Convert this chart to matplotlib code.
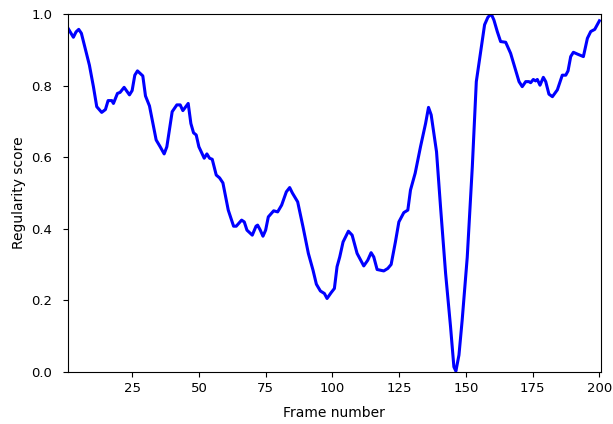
import matplotlib
matplotlib.use("Agg")
import matplotlib.pyplot as plt

# readings: (frame, regularity score)
frames = [1, 3, 4, 5, 6, 9, 10.5, 11.75, 13.6, 15, 16, 17.4, 18, 19.5, 20.5, 22, 24, 25, 26, 27,
          29, 30, 31.5, 34, 35.5, 37, 38, 40, 41.75, 43, 44, 46, 47, 48, 49, 50, 52, 53, 54, 55,
          56.5, 57.75, 59, 61, 63, 64, 66, 67, 68, 70, 71.4, 72, 73, 74, 75, 76, 78, 79.5, 81,
          82.75, 84, 85, 87, 89, 91, 92.75, 94, 95.5, 97, 98, 99.5, 100.75, 101.75, 102.75, 104,
          106, 107.4, 109.25, 111.75, 113.25, 114.5, 115.5, 116.75, 119.25, 120.75, 122, 123.6,
          124.9, 126.75, 128.25, 129.25, 131, 133, 134.9, 136, 137, 139, 140.5, 142.4, 144.25,
          145.5, 146.25, 147.4, 148.6, 150.5, 152.4, 153.9, 155.25, 157, 158.25, 159.5, 160.5,
          161.75, 163, 164.9, 166.75, 168.6, 169.9, 171.1, 172.4, 173.6, 174.25, 175.25, 176.1,
          176.75, 177.75, 179, 179.9, 181.1, 182.4, 184.25, 186.1, 187.4, 188.25, 189.25, 190.25,
          191.75, 194, 195.5, 196.75, 198.25, 200]
scores = [0.96, 0.935, 0.95, 0.957, 0.946, 0.857, 0.797, 0.741, 0.725, 0.733, 0.758, 0.758, 0.75,
          0.778, 0.781, 0.795, 0.774, 0.786, 0.829, 0.841, 0.827, 0.771, 0.743, 0.648, 0.629,
          0.609, 0.629, 0.727, 0.746, 0.746, 0.73, 0.75, 0.694, 0.668, 0.662, 0.629, 0.597, 0.609,
          0.597, 0.594, 0.55, 0.542, 0.528, 0.452, 0.407, 0.407, 0.424, 0.419, 0.396, 0.382,
          0.407, 0.41, 0.396, 0.379, 0.396, 0.433, 0.45, 0.447, 0.466, 0.503, 0.515, 0.5, 0.475,
          0.405, 0.331, 0.284, 0.245, 0.226, 0.219, 0.205, 0.221, 0.233, 0.294, 0.321, 0.363,
          0.393, 0.382, 0.331, 0.296, 0.312, 0.333, 0.321, 0.286, 0.282, 0.289, 0.3, 0.363,
          0.419, 0.445, 0.452, 0.508, 0.555, 0.629, 0.694, 0.739, 0.718, 0.615, 0.461, 0.275,
          0.126, 0.014, 0.002, 0.047, 0.144, 0.32, 0.573, 0.811, 0.881, 0.97, 0.991, 1.0, 0.983,
          0.951, 0.923, 0.921, 0.89, 0.843, 0.811, 0.797, 0.811, 0.811, 0.808, 0.817, 0.813,
          0.817, 0.801, 0.823, 0.811, 0.776, 0.769, 0.788, 0.829, 0.829, 0.841, 0.881, 0.893,
          0.888, 0.881, 0.932, 0.951, 0.957, 0.981]
xticks = [25, 50, 75, 100, 125, 150, 175, 200]

fig = plt.figure(figsize=(6.13, 4.24), dpi=100)
ax = fig.add_axes([0.111, 0.123, 0.869, 0.844])
ax.plot(frames, scores, color="blue", lw=2.2)
ax.set_xlim(1, 200.5)
ax.set_ylim(0, 1)
ax.set_xticks(xticks)
ax.tick_params(labelsize=9.5)
ax.tick_params(axis="y", pad=8)
ax.set_xlabel("Frame number", fontsize=10, labelpad=8)
ax.set_ylabel("Regularity score", fontsize=10)
fig.savefig("out.png", dpi=100)
